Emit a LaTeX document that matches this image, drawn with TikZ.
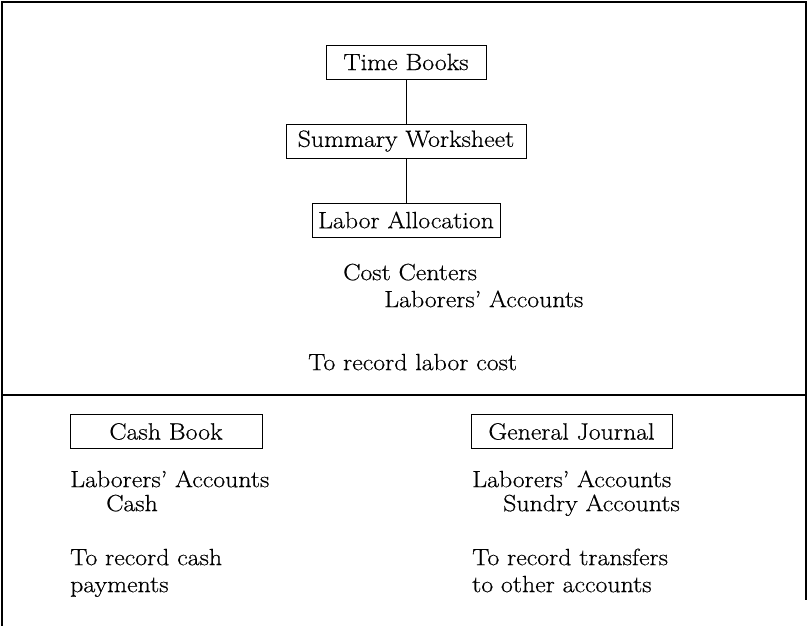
\documentclass[tikz,border=0pt]{standalone}
\usepackage{fontspec}
\setmainfont{Latin Modern Roman}[FakeStretch=1.1, FakeBold=0.5]
\begin{document}
\begin{tikzpicture}[x=1pt,y=-1pt,
  every node/.style={font=\fontsize{23.5}{27}\selectfont, inner sep=0pt},
  boxnode/.style={draw, line width=0.9pt, minimum height=34pt, align=center},
  txt/.style={anchor=mid west},
  link/.style={line width=0.9pt},
  frame/.style={line width=1.1pt}]
\useasboundingbox (0,0) rectangle (808,626);
% frame
\coordinate (tl) at (2,2);
\coordinate (tr) at (806,2);
\coordinate (bl) at (2,626);
\coordinate (br) at (806,600);
\coordinate (dl) at (2,395);
\coordinate (dr) at (806,395);
\draw[frame] (bl) -- (tl) -- (tr) -- (br);
\draw[frame] (dl) -- (dr);
% top chain
\node[boxnode, minimum width=160pt] (tb) at (406,62) {Time Books};
\node[boxnode, minimum width=240pt] (sw) at (406,141) {Summary Worksheet};
\node[boxnode, minimum width=188pt] (la) at (406,220) {Labor Allocation};
\draw[link] (tb) -- (sw);
\draw[link] (sw) -- (la);
\node[txt] (cc) at (343,278) {Cost Centers};
\node[txt] (lac) at (384,305) {Laborers' Accounts};
\node[txt] (rlc) at (308,368) {To record labor cost};
% bottom left
\node[boxnode, minimum width=192pt] (cb) at (166,431.5) {Cash Book};
\node[txt] (la1) at (70,485) {Laborers' Accounts};
\node[txt] (cash) at (106,509) {Cash};
\node[txt] (rc1) at (70,563) {To record cash};
\node[txt] (rc2) at (70,590) {payments};
% bottom right
\node[boxnode, minimum width=201pt] (gj) at (571.5,431.5) {General Journal};
\node[txt] (la2) at (472,485) {Laborers' Accounts};
\node[txt] (sa) at (503,509) {Sundry Accounts};
\node[txt] (rt1) at (472,563) {To record transfers};
\node[txt] (rt2) at (472,590) {to other accounts};
\end{tikzpicture}
\end{document}
